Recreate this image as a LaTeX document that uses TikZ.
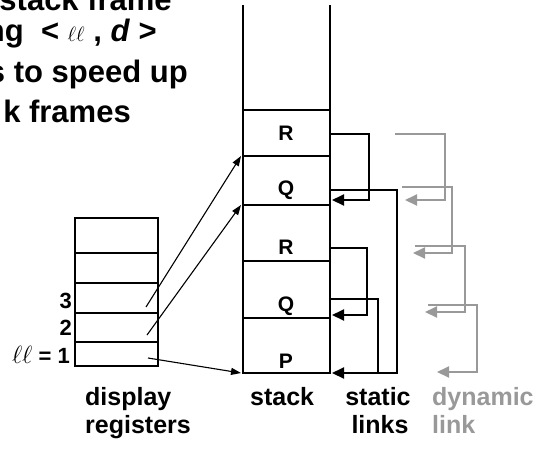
\documentclass[tikz,border=0pt]{standalone}
\usepackage{fontspec}
\setmainfont{Liberation Sans}
\usetikzlibrary{arrows.meta,positioning}
\definecolor{dyngray}{RGB}{153,153,153}

\begin{document}
\begin{tikzpicture}[x=1pt,y=-1pt,
  box/.style={line width=2pt},
  statlink/.style={line width=2pt,-{Triangle[length=12pt,width=11pt]}},
  dynlink/.style={line width=2pt,dyngray,-{Triangle[length=12pt,width=11pt]}},
  ptr/.style={line width=1.1pt,-{Triangle[length=10pt,width=7pt]}},
  head/.style={font=\fontsize{31}{31}\selectfont\bfseries,inner sep=0pt},
  caption/.style={font=\fontsize{25}{25}\selectfont\bfseries,inner sep=0pt},
  framelbl/.style={font=\fontsize{21}{21}\selectfont\bfseries,inner sep=0pt},
  reglbl/.style={font=\fontsize{22}{22}\selectfont\bfseries,inner sep=0pt}]
 \clip (0,0) rectangle (541,448);
 %heading, cut off at the left
   \node[head,anchor=base east] (t1) at (172,10) {stack frame};
   \node[head,anchor=base east] (t2) at (157,41) {ng\ \ <\ {\mdseries\fontsize{20}{20}\selectfont$\ell\ell$}\ ,\ \textit{d}\ >};
   \node[head,anchor=base east] (t3) at (188,82) {s to speed up};
   \node[head,anchor=base east] (t4) at (131,122) {k frames};
 %draw stack
   \draw[box] (243,5) -- (243,373) -- (330,373) -- (330,5);
   \foreach \y in {110,156,205,261,318}
     \draw[box] (243,\y) -- (330,\y);
   \node[framelbl,anchor=base] (fr1) at (286,140) {R};
   \node[framelbl,anchor=base] (fr2) at (286,195) {Q};
   \node[framelbl,anchor=base] (fr3) at (286,254) {R};
   \node[framelbl,anchor=base] (fr4) at (286,311) {Q};
   \node[framelbl,anchor=base] (fr5) at (286,368) {P};
 %draw display registers
   \draw[box] (75,218) rectangle (158,366);
   \foreach \y in {253,283,313,342}
     \draw[box] (75,\y) -- (158,\y);
   \node[reglbl,anchor=base east] (n3) at (72,308) {3};
   \node[reglbl,anchor=base east] (n2) at (72,335) {2};
   \node[reglbl,anchor=base east] (n1) at (70,363) {{\mdseries\fontsize{23}{23}\selectfont$\ell\ell$} = 1};
 %pointers into the stack
   \coordinate (dr3) at (146,307);
   \coordinate (dr2) at (147,335);
   \coordinate (dr1) at (148,358);
   \coordinate (s3) at (241,156);
   \coordinate (s2) at (241,205);
   \coordinate (s1) at (241,373);
   \draw[ptr] (dr3) -- (s3);
   \draw[ptr] (dr2) -- (s2);
   \draw[ptr] (dr1) -- (s1);
 %static links
   \coordinate (r1) at (330,134);
   \coordinate (q2) at (330,190);
   \coordinate (r3) at (330,248);
   \coordinate (q4) at (330,299);
   \coordinate (q2in) at (332,200);
   \coordinate (q4in) at (332,315);
   \coordinate (p5in) at (332,373);
   \draw[statlink] (r1) -- ++(39,0) |- (q2in);
   \draw[statlink] (q2) -- ++(67,0) |- (p5in);
   \draw[statlink] (r3) -- ++(37,0) |- (q4in);
   \draw[box] (q4) -- ++(48,0) -- ++(0,74);
 %dynamic links
   \coordinate (d1) at (395,134);
   \coordinate (d2) at (402,187);
   \coordinate (d3) at (415,246);
   \coordinate (d4) at (428,305);
   \coordinate (d1e) at (405,200);
   \coordinate (d2e) at (413,253);
   \coordinate (d3e) at (425,312);
   \coordinate (d4e) at (437,372);
   \draw[dynlink] (d1) -- ++(50,0) |- (d1e);
   \draw[dynlink] (d2) -- ++(50,0) |- (d2e);
   \draw[dynlink] (d3) -- ++(50,0) |- (d3e);
   \draw[dynlink] (d4) -- ++(49,0) |- (d4e);
 %captions
   \node[caption,anchor=base west] (cd) at (85,405) {display};
   \node[caption,anchor=base west] (cr) at (85,433) {registers};
   \node[caption,anchor=base west] (cs) at (250,405) {stack};
   \node[caption,anchor=base] (cst) at (378,405) {static};
   \node[caption,anchor=base] (cl) at (380,433) {links};
   \node[caption,anchor=base west,dyngray] (cdy) at (432,405) {dynamic};
   \node[caption,anchor=base west,dyngray] (cli) at (432,433) {link};
\end{tikzpicture}
\end{document}
